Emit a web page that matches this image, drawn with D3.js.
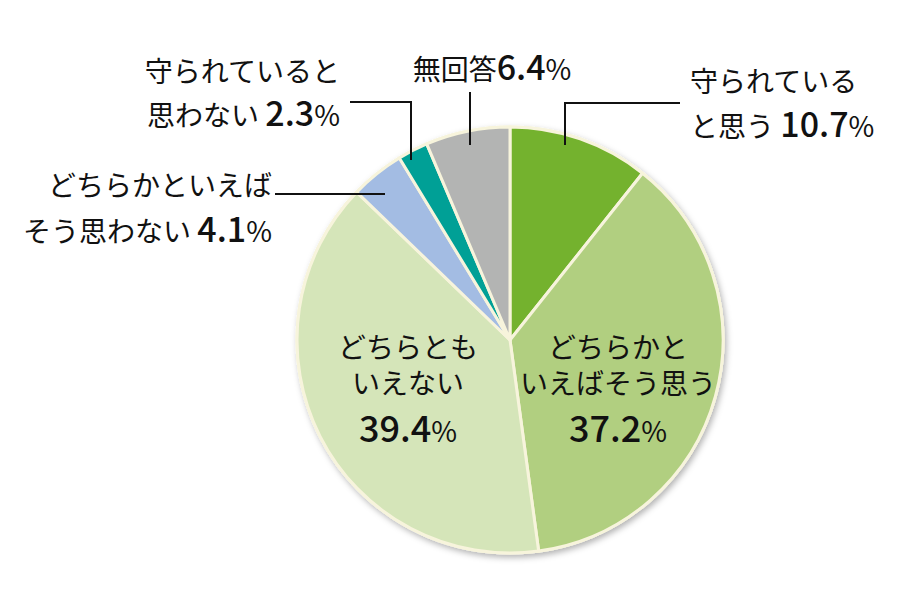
<!DOCTYPE html><html><head><meta charset="utf-8"><script src="https://cdn.jsdelivr.net/npm/d3@7"></script>
<style>body{margin:0;background:#fff}</style></head><body><svg id="c" width="922" height="599"></svg>
<script>
const categories=["守られていると思う","どちらかといえばそう思う","どちらともいえない","どちらかといえばそう思わない","守られていると思わない","無回答"];
const values=[10.7,37.2,39.4,4.1,2.3,6.4];
const colors=["#74b22e","#b1cf80","#d5e5b9","#a3bce3","#00a096","#b3b4b3"];
const svg=d3.select("#c");
const cx=510,cy=340,r=213;
const defs=svg.append("defs");
const f=defs.append("filter").attr("id","sh").attr("x","-20%").attr("y","-20%").attr("width","140%").attr("height","140%");
f.append("feDropShadow").attr("dx",2).attr("dy",3).attr("stdDeviation",3).attr("flood-color","#000").attr("flood-opacity",0.3);
const g=svg.append("g").attr("transform",`translate(${cx},${cy})`);
const pie=d3.pie().sort(null).value(d=>d)(values);
const arc=d3.arc().innerRadius(0).outerRadius(r);
g.append("circle").attr("r",r+1.5).attr("fill","#f7f4dc").attr("filter","url(#sh)");
g.selectAll("path").data(pie).join("path").attr("d",arc).attr("fill",(d,i)=>colors[i]).attr("stroke","#f7f4dc").attr("stroke-width",3).attr("stroke-linejoin","round");
const fam="'Noto Sans CJK JP',sans-serif";
function label(x,y,lines,anchor){
  lines.forEach((l,k)=>{
    const t=svg.append("text").attr("text-anchor",anchor).attr("font-family",fam).attr("fill","#111")
      .attr("x",x).attr("y",y+l.dy);
    l.parts.forEach(p=>t.append("tspan").attr("font-size",p[1]).attr("font-weight",p[2]||400).text(p[0]));
  });
}
const J=28,N=34;
label(690,0,[{dy:92,parts:[["守られている",J]]},{dy:137,parts:[["と思う ",J],[values[0].toFixed(1),N,500],["%",J]]}],"start");
label(492,0,[{dy:80,parts:[["無回答",J],[values[5].toFixed(1),N,500],["%",J]]}],"middle");
label(340,0,[{dy:82,parts:[["守られていると",J]]},{dy:126,parts:[["思わない ",J],[values[4].toFixed(1),N,500],["%",J]]}],"end");
label(272,0,[{dy:196,parts:[["どちらかといえば",J]]},{dy:242,parts:[["そう思わない ",J],[values[3].toFixed(1),N,500],["%",J]]}],"end");
label(618,0,[{dy:358,parts:[["どちらかと",J]]},{dy:394,parts:[["いえばそう思う",J]]},{dy:442,parts:[[values[1].toFixed(1),36,500],["%",J]]}],"middle");
label(408,0,[{dy:358,parts:[["どちらとも",J]]},{dy:394,parts:[["いえない",J]]},{dy:442,parts:[[values[2].toFixed(1),36,500],["%",J]]}],"middle");
const lines=[[[565,145],[565,103],[680,103]],[[470,145],[470,92]],[[411,160],[411,102],[350,102]],[[385,194],[275,194]]];
lines.forEach(p=>svg.append("path").attr("d",d3.line()(p)).attr("fill","none").attr("stroke","#111").attr("stroke-width",2));
</script></body></html>
